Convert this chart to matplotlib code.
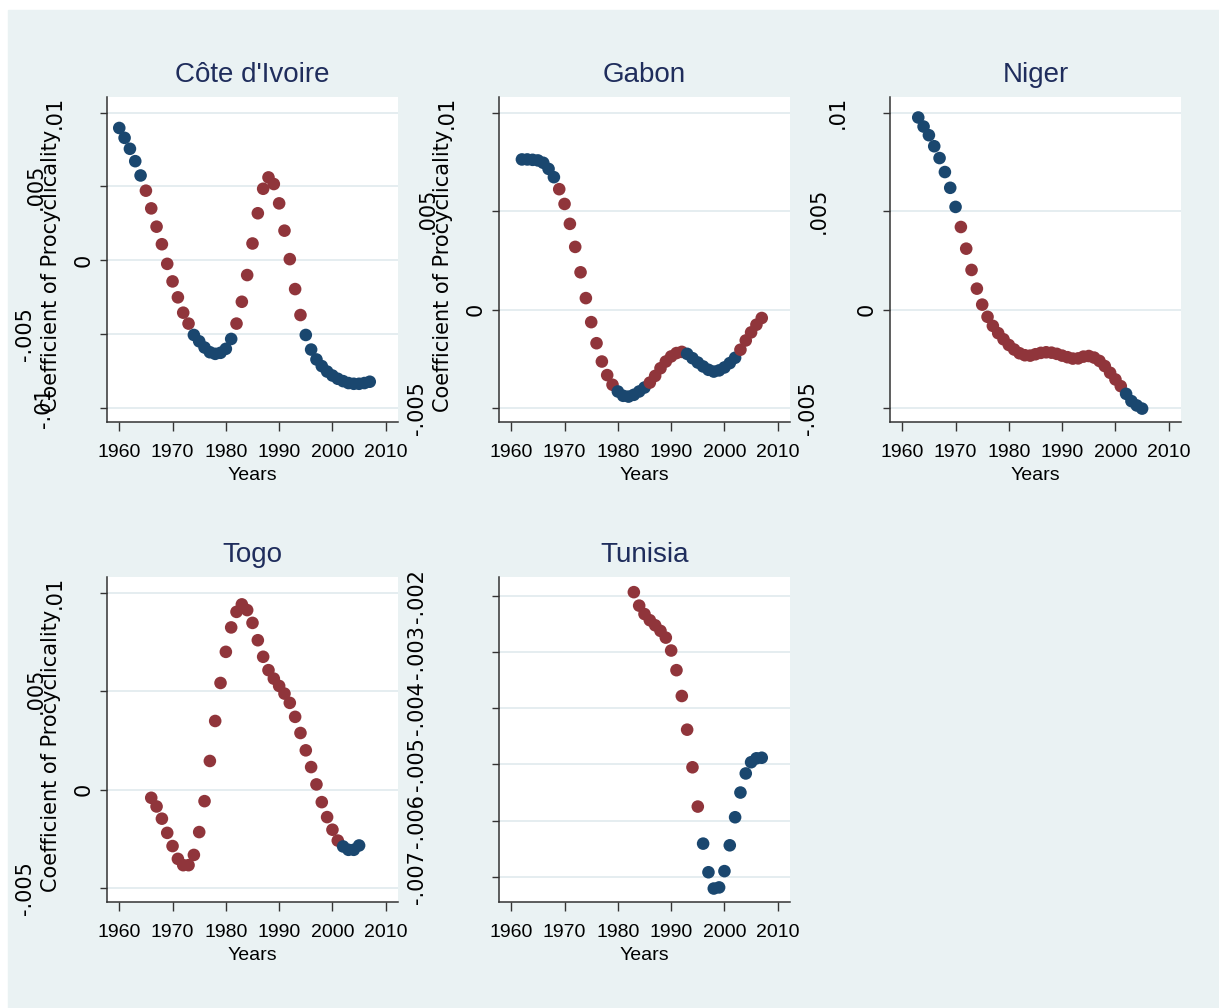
import numpy as np
import matplotlib.pyplot as plt
from matplotlib.patches import Rectangle
from matplotlib.transforms import offset_copy

# coefficient of procyclicality by year; flag r = red marker, b = blue marker
civ_years = np.arange(1960, 2008)
civ_coef = [.00896, .00829, .00755, .00671, .00574, .00471, .00351, .00227, .00108, -.00025,
            -.00144, -.00252, -.00356, -.0043, -.00507, -.0055, -.00592, -.00624, -.00635, -.00628,
            -.00601, -.00534, -.0043, -.00282, -.00101, .00113, .00318, .00484, .00561, .00516,
            .00385, .002, .00007, -.00196, -.00372, -.00507, -.00606, -.00673, -.00718, -.00755,
            -.00782, -.00804, -.0082, -.00833, -.00838, -.00838, -.00833, -.00824]
civ_flag = "bbbbb" + "rrrrrrrrr" + "bbbbbbbb" + "rrrrrrrrrrrrr" + "bbbbbbbbbbbbb"

gab_years = np.arange(1962, 2008)
gab_coef = [.00763, .00763, .00761, .00758, .00746, .00715, .00673, .00612,
            .00537, .00436, .00319, .0019, .00059, -.00063, -.0017, -.00263, -.00332, -.00381,
            -.00415, -.00437, -.00441, -.00432, -.00415, -.00395, -.0037, -.00336, -.00297, -.00263,
            -.00237, -.0022, -.00214, -.00224, -.00246, -.00268, -.00288, -.00305, -.00314, -.00308,
            -.00293, -.00271, -.00244, -.00203, -.00156, -.00115, -.00076, -.00042]
gab_flag = "bbbbbbb" + "rrrrrrrrrrr" + "bbbbbb" + "rrrrrrr" + "bbbbbbbbbb" + "rrrrr"

ner_years = np.arange(1963, 2006)
ner_coef = [.00976, .0093, .00886, .0083, .0077, .00699, .00619,
            .00522, .0042, .0031, .00202, .00107, .00026, -.00036, -.00082, -.00119, -.0015,
            -.00179, -.00202, -.00221, -.00231, -.00233, -.00226, -.00219, -.00216, -.00218, -.00224,
            -.00233, -.00241, -.00248, -.00247, -.00238, -.00235, -.00243, -.0026, -.00286, -.0032,
            -.00354, -.00388, -.00427, -.00464, -.00486, -.00502]
ner_flag = "bbbbbbbb" + "r" * 31 + "bbbb"

tgo_years = np.arange(1966, 2006)
tgo_coef = [-.00041, -.00085, -.00147, -.00219,
            -.00286, -.00351, -.00383, -.00383, -.00331, -.00215, -.00058, .00146, .00349, .00542,
            .007, .00824, .00903, .00941, .00912, .00847, .00759, .00675, .00607, .00564,
            .00527, .00488, .00441, .0037, .00288, .002, .00115, .00027, -.00063, -.00139,
            -.00203, -.00258, -.00288, -.00305, -.00305, -.00283]
tgo_flag = "r" * 36 + "bbbb"

tun_years = np.arange(1983, 2008)
tun_coef = [-.00193, -.00217, -.00232, -.00243, -.00252, -.00262, -.00274,
            -.00297, -.00332, -.00378, -.00438, -.00505, -.00575, -.00641, -.00692, -.00721, -.00719,
            -.0069, -.00644, -.00594, -.0055, -.00516, -.00496, -.00489, -.00488]
tun_flag = "r" * 13 + "b" * 12

x_ticks = [1960, 1970, 1980, 1990, 2000, 2010]
civ_yticks = [-.01, -.005, 0, .005, .01]
civ_ylabels = ["-.01", "-.005", "0", ".005", ".01"]
mid_yticks = [-.005, 0, .005, .01]
mid_ylabels = ["-.005", "0", ".005", ".01"]
tun_yticks = [-.007, -.006, -.005, -.004, -.003, -.002]
tun_ylabels = ["-.007", "-.006", "-.005", "-.004", "-.003", "-.002"]

bg = '#EAF2F3'
blue = '#1A476F'
red = '#90353B'
title_col = '#1F2D5C'

W, H = 1219, 1008
fig = plt.figure(figsize=(W / 100, H / 100), dpi=100, facecolor='white')
fig.patches.append(Rectangle((8 / W, 0), 1 - 8 / W, 1 - 10 / H, transform=fig.transFigure,
                             color=bg, zorder=-5))

panels = [
    ("Côte d'Ivoire", civ_years, civ_coef, civ_flag, civ_yticks, civ_ylabels, (-.01097, .01106), True, (107, 97)),
    ("Gabon", gab_years, gab_coef, gab_flag, mid_yticks, mid_ylabels, (-.0057, .0108), True, (499, 97)),
    ("Niger", ner_years, ner_coef, ner_flag, mid_yticks, mid_ylabels, (-.0057, .0108), False, (890, 97)),
    ("Togo", tgo_years, tgo_coef, tgo_flag, mid_yticks, mid_ylabels, (-.0057, .0108), True, (107, 577)),
    ("Tunisia", tun_years, tun_coef, tun_flag, tun_yticks, tun_ylabels, (-.00745, -.00166), False, (499, 577)),
]

char_w = {'-': .333, '.': .278}


def label_dist(s):
    # stata pushes the rotated labels away from the axis by their length
    L = sum(char_w.get(c, .556) for c in s) * 24.6
    return 4 + 1.4 * L


for name, yrs, coef, flag, yt, yl, ylim, ytitle, (left, top) in panels:
    pw, ph = 291, 325
    ax = fig.add_axes([left / W, 1 - (top + ph) / H, pw / W, ph / H])
    ax.set_facecolor('white')
    for s in ['top', 'right']:
        ax.spines[s].set_visible(False)
    for s in ['left', 'bottom']:
        ax.spines[s].set_color('#333333')
        ax.spines[s].set_linewidth(1.1)

    ax.set_xlim(1957.7, 2012.3)
    ax.set_ylim(*ylim)
    ax.set_xticks(x_ticks)
    ax.set_xticklabels([str(t) for t in x_ticks], fontsize=14, family='Liberation Sans')
    ax.set_yticks(yt)
    ax.set_yticklabels([])
    ax.tick_params(axis='x', length=6.5, width=1, color='#333333', pad=9)
    ax.tick_params(axis='y', length=5, width=1, color='#333333', pad=0)
    ax.grid(axis='y', color='#E3ECEF', linewidth=1.3)
    ax.set_axisbelow(True)
    ax.set_xlabel("Years", fontsize=14, family='Liberation Sans', labelpad=5)

    cols = [red if f == 'r' else blue for f in flag]
    ax.scatter(yrs, coef, c=cols, s=82, linewidths=0, zorder=3, clip_on=False)

    for t, lab in zip(yt, yl):
        tr = offset_copy(ax.get_yaxis_transform(), fig=fig, x=-label_dist(lab), units='dots')
        ax.text(0, t, lab, transform=tr, rotation=90, ha='center', va='center',
                rotation_mode='anchor', fontsize=15, family='DejaVu Sans')

    if ytitle:
        tr = offset_copy(ax.transAxes, fig=fig, x=-56, y=-11, units='dots')
        ax.text(0, 0.5, "Coefficient of Procyclicality", transform=tr, rotation=90,
                ha='center', va='center', rotation_mode='anchor', fontsize=15,
                family='DejaVu Sans')

    tr = offset_copy(ax.transAxes, fig=fig, y=22, units='dots')
    ax.text(0.5, 1, name, transform=tr, ha='center', va='center', fontsize=20,
            color=title_col, family='Liberation Sans')

fig.savefig('out.png', dpi=100, facecolor=fig.get_facecolor())
